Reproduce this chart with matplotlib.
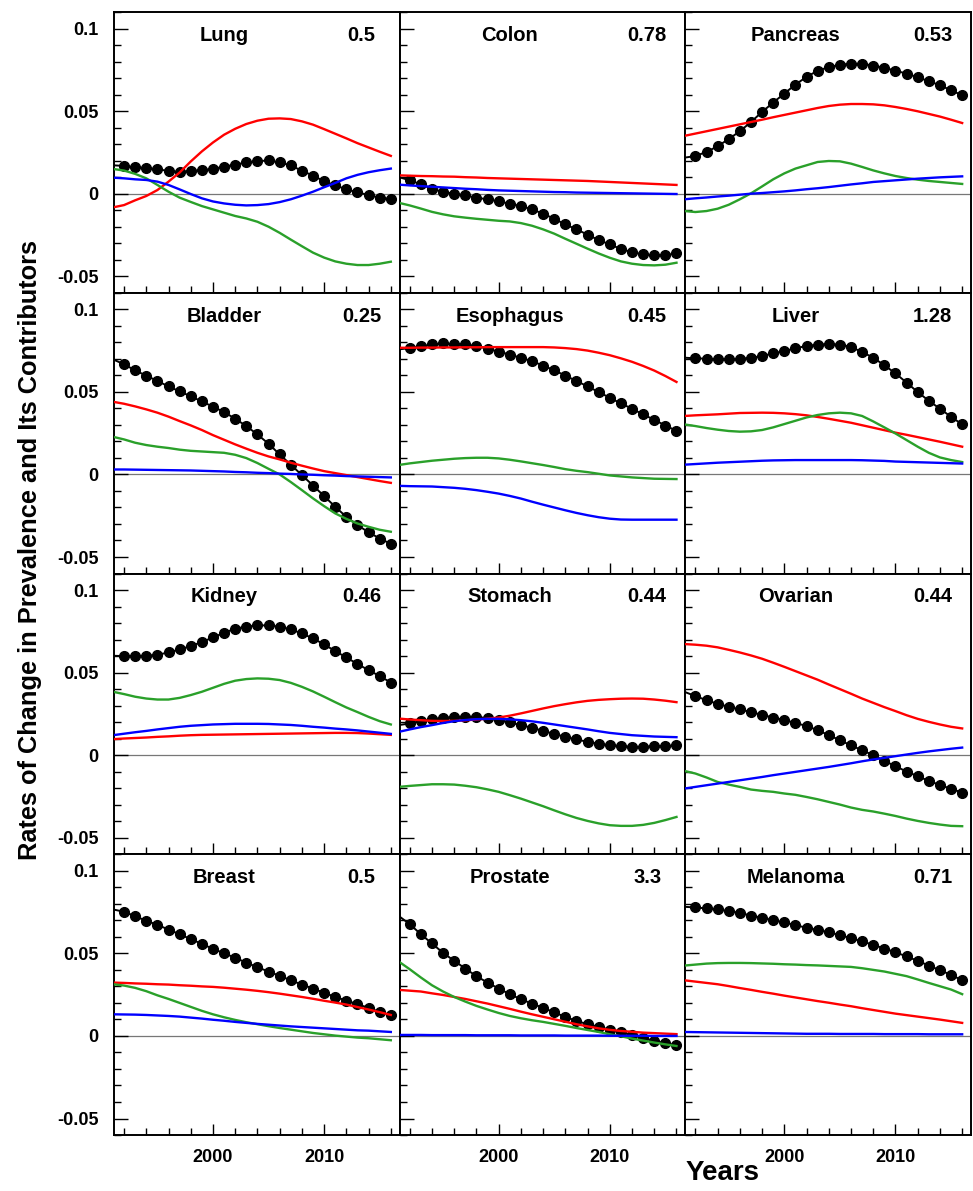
import matplotlib
matplotlib.use("Agg")
import matplotlib.pyplot as plt
from matplotlib.ticker import MultipleLocator, FixedLocator, FuncFormatter
import numpy as np

plt.rcParams['font.family'] = ['Liberation Sans', 'DejaVu Sans']
plt.rcParams['font.weight'] = 'bold'

years = np.arange(1991, 2017)

# panel names and the value printed at the top right of each panel
sites = ["Lung", "Colon", "Pancreas",
         "Bladder", "Esophagus", "Liver",
         "Kidney", "Stomach", "Ovarian",
         "Breast", "Prostate", "Melanoma"]
site_values = ["0.5", "0.78", "0.53",
               "0.25", "0.45", "1.28",
               "0.46", "0.44", "0.44",
               "0.5", "3.3", "0.71"]

# black dots: rate of change in prevalence
total = {
    "Lung": [0.0172, 0.0168, 0.0160, 0.0156, 0.0148, 0.0138, 0.0132, 0.0138, 0.0142, 0.0150, 0.0164, 0.0176, 0.0189,
             0.0197, 0.0201, 0.0189, 0.0172, 0.0138, 0.0110, 0.0075, 0.0051, 0.0026, 0.0008, -0.0008, -0.0024, -0.0032],
    "Colon": [0.0101, 0.0081, 0.0057, 0.0030, 0.0010, 0.0000, -0.0010, -0.0024, -0.0034, -0.0046, -0.0061, -0.0075,
              -0.0095, -0.0121, -0.0152, -0.0186, -0.0216, -0.0248, -0.0281, -0.0307, -0.0335, -0.0354, -0.0368,
              -0.0374, -0.0374, -0.0360],
    "Pancreas": [0.0218, 0.0228, 0.0253, 0.0287, 0.0331, 0.0378, 0.0434, 0.0495, 0.0552, 0.0606, 0.0661, 0.0707, 0.0745,
                 0.0766, 0.0780, 0.0788, 0.0786, 0.0776, 0.0762, 0.0745, 0.0727, 0.0705, 0.0681, 0.0657, 0.0626, 0.0596],
    "Bladder": [0.0697, 0.0667, 0.0630, 0.0598, 0.0566, 0.0533, 0.0503, 0.0473, 0.0442, 0.0410, 0.0378, 0.0337, 0.0293,
                0.0242, 0.0186, 0.0121, 0.0059, -0.0004, -0.0067, -0.0131, -0.0196, -0.0257, -0.0307, -0.0350,
                -0.0388, -0.0420],
    "Esophagus": [0.0757, 0.0765, 0.0775, 0.0787, 0.0793, 0.0789, 0.0787, 0.0777, 0.0761, 0.0744, 0.0726, 0.0706,
                  0.0686, 0.0659, 0.0631, 0.0598, 0.0566, 0.0533, 0.0499, 0.0464, 0.0430, 0.0398, 0.0363, 0.0331,
                  0.0296, 0.0264],
    "Liver": [0.0707, 0.0703, 0.0701, 0.0697, 0.0697, 0.0701, 0.0705, 0.0717, 0.0733, 0.0747, 0.0764, 0.0778, 0.0786,
              0.0790, 0.0786, 0.0772, 0.0741, 0.0707, 0.0661, 0.0612, 0.0556, 0.0499, 0.0446, 0.0398, 0.0349, 0.0303],
    "Kidney": [0.0602, 0.0600, 0.0600, 0.0602, 0.0608, 0.0622, 0.0640, 0.0661, 0.0685, 0.0713, 0.0741, 0.0766, 0.0778,
               0.0786, 0.0786, 0.0778, 0.0762, 0.0737, 0.0707, 0.0671, 0.0630, 0.0592, 0.0552, 0.0515, 0.0479, 0.0440],
    "Stomach": [0.0182, 0.0192, 0.0206, 0.0218, 0.0226, 0.0232, 0.0234, 0.0232, 0.0224, 0.0212, 0.0198, 0.0182, 0.0166,
                0.0147, 0.0129, 0.0111, 0.0095, 0.0081, 0.0069, 0.0061, 0.0055, 0.0051, 0.0051, 0.0055, 0.0055, 0.0059],
    "Ovarian": [0.0384, 0.0358, 0.0333, 0.0311, 0.0293, 0.0277, 0.0261, 0.0244, 0.0228, 0.0212, 0.0196, 0.0176, 0.0152,
                0.0121, 0.0091, 0.0059, 0.0030, 0.0000, -0.0034, -0.0067, -0.0099, -0.0127, -0.0156, -0.0180,
                -0.0204, -0.0226],
    "Breast": [0.0766, 0.0752, 0.0725, 0.0697, 0.0673, 0.0644, 0.0616, 0.0586, 0.0558, 0.0527, 0.0501, 0.0473, 0.0444,
               0.0416, 0.0390, 0.0364, 0.0337, 0.0311, 0.0287, 0.0261, 0.0236, 0.0214, 0.0192, 0.0170, 0.0145, 0.0125],
    "Prostate": [0.0727, 0.0677, 0.0616, 0.0560, 0.0503, 0.0455, 0.0408, 0.0362, 0.0323, 0.0287, 0.0253, 0.0222, 0.0196,
                 0.0170, 0.0143, 0.0115, 0.0091, 0.0071, 0.0055, 0.0038, 0.0022, 0.0006, -0.0012, -0.0030, -0.0044,
                 -0.0057],
    "Melanoma": [0.0782, 0.0778, 0.0772, 0.0766, 0.0756, 0.0745, 0.0729, 0.0715, 0.0701, 0.0687, 0.0671, 0.0655, 0.0642,
                 0.0628, 0.0610, 0.0592, 0.0572, 0.0552, 0.0529, 0.0507, 0.0481, 0.0455, 0.0426, 0.0398, 0.0370, 0.0337],
}

# red contributor
red = {
    "Lung": [-0.0083, -0.0069, -0.0040, -0.0014, 0.0022, 0.0073, 0.0128, 0.0195, 0.0256, 0.0310, 0.0357, 0.0393, 0.0422,
             0.0442, 0.0454, 0.0456, 0.0452, 0.0438, 0.0418, 0.0391, 0.0363, 0.0335, 0.0306, 0.0280, 0.0254, 0.0229],
    "Colon": [0.0111, 0.0109, 0.0107, 0.0106, 0.0104, 0.0103, 0.0100, 0.0098, 0.0095, 0.0093, 0.0091, 0.0089, 0.0087,
              0.0085, 0.0083, 0.0081, 0.0079, 0.0077, 0.0074, 0.0071, 0.0068, 0.0065, 0.0062, 0.0059, 0.0056, 0.0053],
    "Pancreas": [0.0350, 0.0364, 0.0378, 0.0392, 0.0406, 0.0420, 0.0434, 0.0448, 0.0463, 0.0477, 0.0491, 0.0505, 0.0519,
                 0.0531, 0.0539, 0.0543, 0.0543, 0.0541, 0.0535, 0.0525, 0.0513, 0.0499, 0.0483, 0.0467, 0.0448, 0.0428],
    "Bladder": [0.0440, 0.0428, 0.0412, 0.0394, 0.0374, 0.0350, 0.0323, 0.0297, 0.0269, 0.0238, 0.0210, 0.0182, 0.0156,
                0.0131, 0.0109, 0.0091, 0.0071, 0.0053, 0.0036, 0.0020, 0.0008, -0.0004, -0.0016, -0.0028, -0.0040,
                -0.0051],
    "Esophagus": [0.0767, 0.0767, 0.0768, 0.0768, 0.0769, 0.0769, 0.0770, 0.0770, 0.0771, 0.0771, 0.0771, 0.0771,
                  0.0771, 0.0771, 0.0769, 0.0765, 0.0759, 0.0750, 0.0737, 0.0722, 0.0703, 0.0682, 0.0657, 0.0629,
                  0.0596, 0.0560],
    "Liver": [0.0354, 0.0358, 0.0361, 0.0364, 0.0368, 0.0372, 0.0373, 0.0374, 0.0373, 0.0370, 0.0365, 0.0358, 0.0348,
              0.0337, 0.0325, 0.0313, 0.0298, 0.0283, 0.0268, 0.0253, 0.0240, 0.0226, 0.0212, 0.0198, 0.0183, 0.0168],
    "Kidney": [0.0097, 0.0101, 0.0104, 0.0107, 0.0111, 0.0114, 0.0118, 0.0121, 0.0123, 0.0124, 0.0125, 0.0126, 0.0127,
               0.0128, 0.0129, 0.0130, 0.0131, 0.0132, 0.0133, 0.0134, 0.0135, 0.0135, 0.0134, 0.0131, 0.0127, 0.0123],
    "Stomach": [0.0222, 0.0216, 0.0212, 0.0208, 0.0207, 0.0208, 0.0211, 0.0216, 0.0221, 0.0228, 0.0239, 0.0253, 0.0268,
                0.0283, 0.0297, 0.0309, 0.0320, 0.0329, 0.0335, 0.0339, 0.0342, 0.0343, 0.0342, 0.0337, 0.0330, 0.0321],
    "Ovarian": [0.0673, 0.0669, 0.0663, 0.0653, 0.0638, 0.0622, 0.0604, 0.0584, 0.0560, 0.0535, 0.0509, 0.0483, 0.0457,
                0.0428, 0.0400, 0.0372, 0.0343, 0.0317, 0.0291, 0.0267, 0.0242, 0.0220, 0.0202, 0.0186, 0.0172, 0.0162],
    "Breast": [0.0323, 0.0321, 0.0318, 0.0316, 0.0313, 0.0311, 0.0307, 0.0304, 0.0300, 0.0297, 0.0292, 0.0286, 0.0280,
               0.0273, 0.0265, 0.0256, 0.0246, 0.0236, 0.0225, 0.0213, 0.0202, 0.0190, 0.0175, 0.0160, 0.0144, 0.0127],
    "Prostate": [0.0279, 0.0274, 0.0269, 0.0258, 0.0248, 0.0236, 0.0224, 0.0210, 0.0196, 0.0180, 0.0164, 0.0147, 0.0131,
                 0.0116, 0.0101, 0.0086, 0.0071, 0.0058, 0.0046, 0.0037, 0.0030, 0.0025, 0.0020, 0.0017, 0.0014, 0.0011],
    "Melanoma": [0.0337, 0.0329, 0.0321, 0.0313, 0.0302, 0.0290, 0.0279, 0.0267, 0.0256, 0.0244, 0.0233, 0.0222, 0.0211,
                 0.0201, 0.0190, 0.0180, 0.0168, 0.0157, 0.0146, 0.0135, 0.0126, 0.0117, 0.0108, 0.0099, 0.0089, 0.0079],
}

# green contributor
green = {
    "Lung": [0.0150, 0.0140, 0.0120, 0.0093, 0.0053, 0.0012, -0.0024, -0.0050, -0.0075, -0.0095, -0.0115, -0.0135,
             -0.0150, -0.0170, -0.0200, -0.0237, -0.0278, -0.0318, -0.0357, -0.0387, -0.0410, -0.0424, -0.0432,
             -0.0432, -0.0424, -0.0412],
    "Colon": [-0.0055, -0.0071, -0.0090, -0.0110, -0.0125, -0.0137, -0.0145, -0.0152, -0.0158, -0.0164, -0.0168, -0.0178,
              -0.0194, -0.0216, -0.0242, -0.0273, -0.0303, -0.0333, -0.0362, -0.0388, -0.0410, -0.0424, -0.0432,
              -0.0434, -0.0430, -0.0418],
    "Pancreas": [-0.0105, -0.0111, -0.0105, -0.0091, -0.0067, -0.0034, 0.0002, 0.0044, 0.0087, 0.0123, 0.0152, 0.0172,
                 0.0192, 0.0198, 0.0196, 0.0182, 0.0162, 0.0141, 0.0123, 0.0107, 0.0095, 0.0085, 0.0077, 0.0071, 0.0065,
                 0.0059],
    "Bladder": [0.0228, 0.0212, 0.0192, 0.0178, 0.0168, 0.0160, 0.0150, 0.0143, 0.0139, 0.0135, 0.0131, 0.0119, 0.0099,
                0.0069, 0.0034, 0.0000, -0.0046, -0.0095, -0.0145, -0.0192, -0.0236, -0.0269, -0.0297, -0.0317,
                -0.0335, -0.0347],
    "Esophagus": [0.0057, 0.0067, 0.0075, 0.0083, 0.0089, 0.0095, 0.0099, 0.0101, 0.0101, 0.0097, 0.0089, 0.0079,
                  0.0068, 0.0057, 0.0045, 0.0032, 0.0022, 0.0014, 0.0004, -0.0006, -0.0012, -0.0018, -0.0022, -0.0026,
                  -0.0027, -0.0028],
    "Liver": [0.0303, 0.0293, 0.0281, 0.0271, 0.0263, 0.0259, 0.0261, 0.0269, 0.0285, 0.0305, 0.0325, 0.0345, 0.0360,
              0.0370, 0.0374, 0.0370, 0.0354, 0.0321, 0.0285, 0.0248, 0.0208, 0.0168, 0.0131, 0.0103, 0.0087, 0.0075],
    "Kidney": [0.0384, 0.0370, 0.0354, 0.0343, 0.0337, 0.0337, 0.0347, 0.0364, 0.0384, 0.0408, 0.0432, 0.0451, 0.0461,
               0.0465, 0.0463, 0.0455, 0.0438, 0.0414, 0.0386, 0.0354, 0.0321, 0.0289, 0.0261, 0.0232, 0.0206, 0.0186],
    "Stomach": [-0.0192, -0.0186, -0.0181, -0.0176, -0.0176, -0.0178, -0.0185, -0.0194, -0.0207, -0.0222, -0.0242,
                -0.0263, -0.0286, -0.0309, -0.0334, -0.0358, -0.0380, -0.0398, -0.0413, -0.0424, -0.0428, -0.0428,
                -0.0422, -0.0410, -0.0393, -0.0374],
    "Ovarian": [-0.0095, -0.0111, -0.0135, -0.0162, -0.0178, -0.0192, -0.0208, -0.0216, -0.0222, -0.0232, -0.0240,
                -0.0253, -0.0267, -0.0283, -0.0299, -0.0317, -0.0331, -0.0341, -0.0354, -0.0368, -0.0384, -0.0398,
                -0.0410, -0.0420, -0.0428, -0.0430],
    "Breast": [0.0313, 0.0305, 0.0291, 0.0271, 0.0246, 0.0224, 0.0200, 0.0176, 0.0152, 0.0131, 0.0113, 0.0097, 0.0083,
               0.0071, 0.0059, 0.0048, 0.0038, 0.0028, 0.0018, 0.0010, 0.0002, -0.0004, -0.0010, -0.0014, -0.0020,
               -0.0026],
    "Prostate": [0.0451, 0.0404, 0.0354, 0.0307, 0.0269, 0.0236, 0.0208, 0.0182, 0.0160, 0.0139, 0.0121, 0.0107, 0.0095,
                 0.0085, 0.0073, 0.0061, 0.0048, 0.0036, 0.0024, 0.0010, -0.0002, -0.0016, -0.0028, -0.0040, -0.0051,
                 -0.0061],
    "Melanoma": [0.0426, 0.0432, 0.0438, 0.0441, 0.0442, 0.0442, 0.0441, 0.0439, 0.0437, 0.0434, 0.0432, 0.0429, 0.0427,
                 0.0424, 0.0421, 0.0418, 0.0410, 0.0400, 0.0390, 0.0376, 0.0362, 0.0342, 0.0321, 0.0301, 0.0281, 0.0253],
}

# blue contributor
blue = {
    "Lung": [0.0097, 0.0093, 0.0087, 0.0083, 0.0073, 0.0053, 0.0026, -0.0002, -0.0028, -0.0047, -0.0059, -0.0067,
             -0.0071, -0.0069, -0.0063, -0.0051, -0.0034, -0.0012, 0.0012, 0.0039, 0.0065, 0.0093, 0.0114, 0.0130,
             0.0142, 0.0152],
    "Colon": [0.0055, 0.0050, 0.0046, 0.0042, 0.0038, 0.0034, 0.0030, 0.0027, 0.0023, 0.0020, 0.0018, 0.0016, 0.0014,
              0.0012, 0.0010, 0.0009, 0.0007, 0.0006, 0.0005, 0.0004, 0.0003, 0.0002, 0.0001, 0.0000, -0.0001, -0.0002],
    "Pancreas": [-0.0034, -0.0028, -0.0023, -0.0017, -0.0012, -0.0006, 0.0000, 0.0004, 0.0009, 0.0014, 0.0020, 0.0027,
                 0.0033, 0.0040, 0.0048, 0.0056, 0.0063, 0.0071, 0.0076, 0.0081, 0.0086, 0.0091, 0.0095, 0.0099, 0.0102,
                 0.0105],
    "Bladder": [0.0030, 0.0030, 0.0029, 0.0028, 0.0027, 0.0026, 0.0025, 0.0024, 0.0022, 0.0020, 0.0018, 0.0015, 0.0013,
                0.0010, 0.0008, 0.0005, 0.0003, 0.0000, -0.0002, -0.0005, -0.0007, -0.0010, -0.0012, -0.0014, -0.0016,
                -0.0018],
    "Esophagus": [-0.0069, -0.0071, -0.0072, -0.0073, -0.0077, -0.0081, -0.0087, -0.0095, -0.0105, -0.0116, -0.0130,
                  -0.0146, -0.0165, -0.0183, -0.0200, -0.0217, -0.0233, -0.0247, -0.0259, -0.0268, -0.0273, -0.0274,
                  -0.0274, -0.0274, -0.0274, -0.0274],
    "Liver": [0.0059, 0.0063, 0.0067, 0.0071, 0.0074, 0.0077, 0.0080, 0.0083, 0.0085, 0.0086, 0.0087, 0.0087, 0.0087,
              0.0087, 0.0087, 0.0087, 0.0086, 0.0084, 0.0082, 0.0078, 0.0076, 0.0074, 0.0072, 0.0070, 0.0068, 0.0066],
    "Kidney": [0.0121, 0.0130, 0.0139, 0.0147, 0.0156, 0.0164, 0.0172, 0.0178, 0.0182, 0.0186, 0.0188, 0.0190, 0.0190,
               0.0190, 0.0189, 0.0186, 0.0183, 0.0178, 0.0172, 0.0167, 0.0161, 0.0156, 0.0150, 0.0143, 0.0136, 0.0129],
    "Stomach": [0.0141, 0.0156, 0.0170, 0.0182, 0.0195, 0.0206, 0.0213, 0.0218, 0.0220, 0.0220, 0.0217, 0.0212, 0.0205,
                0.0196, 0.0186, 0.0176, 0.0166, 0.0156, 0.0145, 0.0135, 0.0128, 0.0121, 0.0117, 0.0113, 0.0111, 0.0109],
    "Ovarian": [-0.0202, -0.0192, -0.0182, -0.0172, -0.0162, -0.0152, -0.0142, -0.0132, -0.0121, -0.0111, -0.0101,
                -0.0091, -0.0081, -0.0071, -0.0060, -0.0049, -0.0037, -0.0026, -0.0016, -0.0006, 0.0004, 0.0014,
                0.0023, 0.0031, 0.0039, 0.0046],
    "Breast": [0.0131, 0.0130, 0.0129, 0.0127, 0.0124, 0.0121, 0.0117, 0.0111, 0.0105, 0.0098, 0.0092, 0.0085, 0.0079,
               0.0073, 0.0068, 0.0063, 0.0058, 0.0054, 0.0050, 0.0046, 0.0042, 0.0038, 0.0034, 0.0032, 0.0028, 0.0024],
    "Prostate": [0.0006, 0.0006, 0.0006, 0.0005, 0.0005, 0.0005, 0.0005, 0.0004, 0.0004, 0.0004, 0.0004, 0.0003, 0.0003,
                 0.0003, 0.0003, 0.0002, 0.0002, 0.0002, 0.0002, 0.0001, 0.0001, 0.0001, 0.0001, 0.0000, 0.0000, 0.0000],
    "Melanoma": [0.0024, 0.0023, 0.0022, 0.0021, 0.0020, 0.0019, 0.0018, 0.0017, 0.0016, 0.0015, 0.0014, 0.0013, 0.0013,
                 0.0013, 0.0012, 0.0012, 0.0012, 0.0012, 0.0011, 0.0011, 0.0011, 0.0011, 0.0010, 0.0010, 0.0010, 0.0010],
}

GREEN = "#2aa02a"

fig, axes = plt.subplots(4, 3, figsize=(9.73, 11.91), dpi=100, sharex=True, sharey=True)
fig.subplots_adjust(left=0.1172, right=0.998, top=0.9899, bottom=0.047, wspace=0, hspace=0)


def ytick_fmt(v, pos):
    if abs(v) < 1e-9:
        return "0"
    return ("%.2f" % v).rstrip("0")


for i, (ax, site) in enumerate(zip(axes.flat, sites)):
    ax.axhline(0, color="#777777", lw=0.9, zorder=1)
    ax.plot(years, total[site], color="black", lw=1.4, zorder=2)
    ax.plot(years[1:], total[site][1:], "o", color="black", ms=7.0, zorder=2)
    ax.plot(years, red[site], color="red", lw=1.7, zorder=3)
    ax.plot(years, green[site], color=GREEN, lw=1.7, zorder=3)
    ax.plot(years, blue[site], color="blue", lw=1.7, zorder=3)

    ax.text(0.385, 0.897, site, transform=ax.transAxes, ha="center", va="baseline",
            fontsize=14.5, fontweight="bold")
    ax.text(0.866, 0.897, site_values[i], transform=ax.transAxes, ha="center", va="baseline",
            fontsize=14.5, fontweight="bold")

    ax.set_xlim(1991.1, 2016.8)
    ax.set_ylim(-0.06, 0.11)
    ax.xaxis.set_major_locator(FixedLocator([2000, 2010]))
    ax.xaxis.set_minor_locator(MultipleLocator(2))
    ax.yaxis.set_major_locator(FixedLocator([-0.05, 0, 0.05, 0.1]))
    ax.yaxis.set_minor_locator(MultipleLocator(0.01))
    ax.yaxis.set_major_formatter(FuncFormatter(ytick_fmt))
    ax.tick_params(which="both", direction="in", top=False, right=False, width=1.0)
    ax.tick_params(axis="y", which="major", length=10, pad=11, labelsize=13)
    ax.tick_params(axis="y", which="minor", length=5)
    ax.tick_params(axis="x", which="major", length=8, pad=10, labelsize=13)
    ax.tick_params(axis="x", which="minor", length=5)
    for lab in ax.get_xticklabels() + ax.get_yticklabels():
        lab.set_fontweight("bold")
    for sp in ax.spines.values():
        sp.set_linewidth(1.4)

fig.text(0.031, 0.538, "Rates of Change in Prevalence and Its Contributors", rotation=90,
         ha="center", va="center", fontsize=18.3, fontweight="bold")
fig.text(0.781, 0.0155, "Years", ha="right", va="center", fontsize=20, fontweight="bold")

fig.savefig("out.png", dpi=100)
